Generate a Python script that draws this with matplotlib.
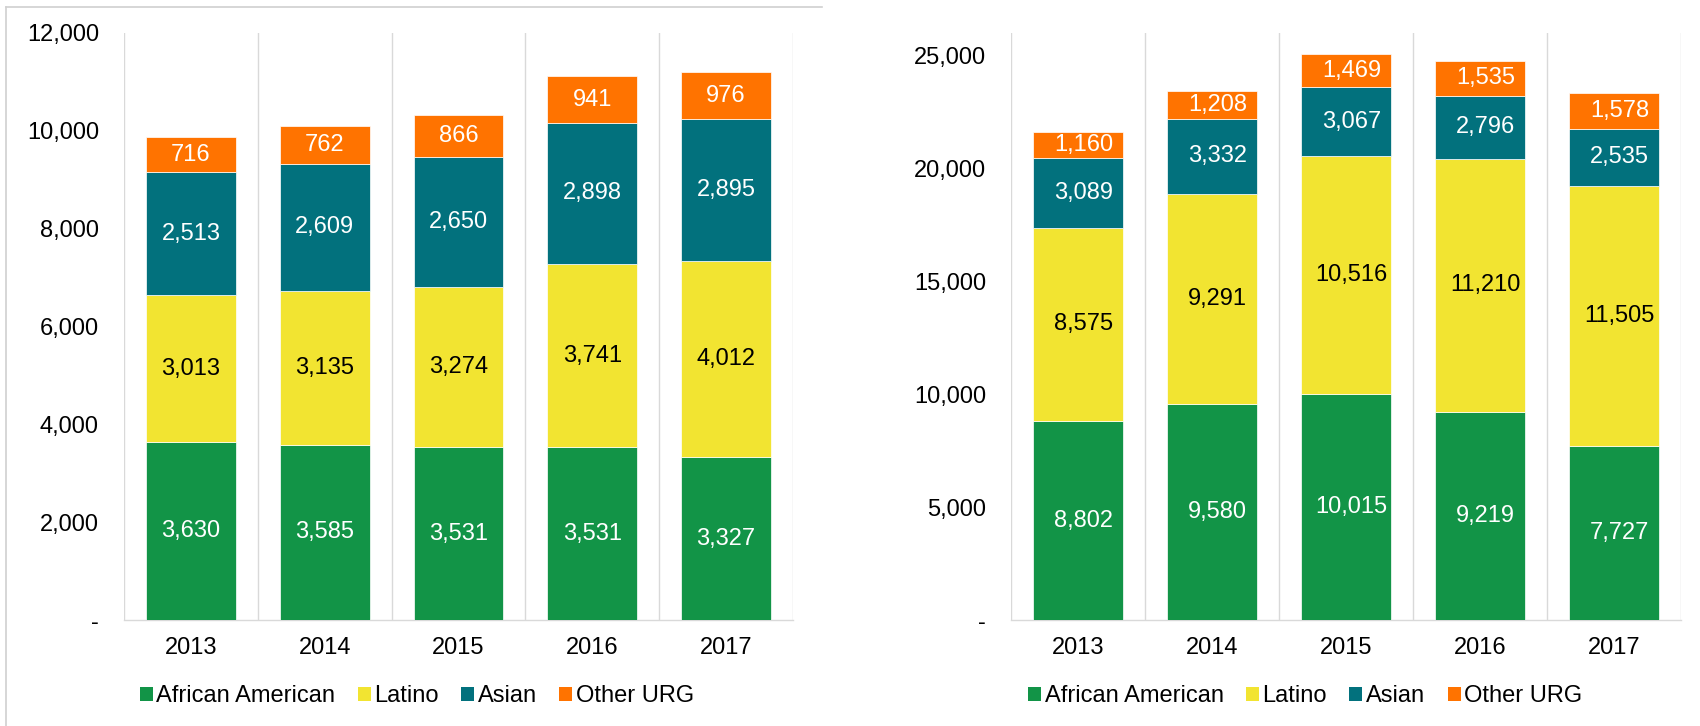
import numpy as np
import matplotlib as mpl
mpl.use('Agg')
from matplotlib import pyplot as plt
from matplotlib.lines import Line2D
from matplotlib.patches import Patch

years = ['2013', '2014', '2015', '2016', '2017']
groups = ['African American', 'Latino', 'Asian', 'Other URG']

# left chart
left_african_american = [3630, 3585, 3531, 3531, 3327]
left_latino = [3013, 3135, 3274, 3741, 4012]
left_asian = [2513, 2609, 2650, 2898, 2895]
left_other = [716, 762, 866, 941, 976]

# right chart
right_african_american = [8802, 9580, 10015, 9219, 7727]
right_latino = [8575, 9291, 10516, 11210, 11505]
right_asian = [3089, 3332, 3067, 2796, 2535]
right_other = [1160, 1208, 1469, 1535, 1578]

COLORS = ['#129447', '#F2E431', '#02717D', '#FF7300']
LABEL_COLORS = ['white', 'black', 'white', 'white']
GRID = '#d9d9d9'

W, H = 1700, 726
FS = 17
plt.rcParams['font.family'] = ['Liberation Sans', 'DejaVu Sans']
plt.rcParams['font.size'] = FS


def fmt(v):
    return '-' if v == 0 else '{:,}'.format(int(v))


def draw_panel(ax, series, ymax, yticks, legend_x, label_dx=0.0):
    ind = np.arange(len(years))
    bottom = np.zeros(len(years))
    for vals, color, lcolor in zip(series, COLORS, LABEL_COLORS):
        vals = np.array(vals)
        ax.bar(ind, vals, width=0.67, bottom=bottom, color=color,
               edgecolor='white', linewidth=0.5, zorder=3)
        for x, b, v in zip(ind, bottom, vals):
            ax.text(x + label_dx, b + v / 2, fmt(v), ha='center', va='center',
                    color=lcolor, fontsize=FS, zorder=4)
        bottom += vals

    # separators between the categories
    for i in range(len(years) + 1):
        ax.axvline(i - 0.5, color=GRID, lw=1, zorder=1)

    ax.set_xlim(-0.5, len(years) - 0.5)
    ax.set_ylim(0, ymax)
    ax.set_xticks(ind)
    ax.set_xticklabels(years)
    ax.set_yticks(yticks)
    ax.set_yticklabels([fmt(t) for t in yticks])
    ax.tick_params(axis='both', length=0, labelsize=FS)
    ax.tick_params(axis='y', pad=18)
    ax.tick_params(axis='x', pad=12)
    for side in ['top', 'right', 'left']:
        ax.spines[side].set_visible(False)
    ax.spines['bottom'].set_color(GRID)
    ax.spines['bottom'].set_linewidth(1)

    handles = [Patch(facecolor=c, edgecolor='none') for c in COLORS]
    ax.legend(handles, groups, loc='center', bbox_to_anchor=(legend_x, -0.13),
              ncol=4, frameon=False, fontsize=FS, handlelength=0.55,
              handleheight=0.55, handletextpad=0.15, columnspacing=0.95)


fig = plt.figure(figsize=(W / 100, H / 100), dpi=100, facecolor='w')

bottom_frac = (H - 620) / H
height_frac = (620 - 33) / H
ax1 = fig.add_axes([124 / W, bottom_frac, (793 - 124) / W, height_frac])
ax2 = fig.add_axes([1011 / W, bottom_frac, (1681 - 1011) / W, height_frac])

draw_panel(ax1, [left_african_american, left_latino, left_asian, left_other],
           12000, np.arange(0, 12001, 2000), 0.438)
draw_panel(ax2, [right_african_american, right_latino, right_asian, right_other],
           26000, np.arange(0, 25001, 5000), 0.439, label_dx=0.04)

# thin frame around the left chart (top and left edges only)
fig.add_artist(Line2D([6 / W, 822 / W], [1 - 7 / H, 1 - 7 / H],
                      transform=fig.transFigure, color='#d0d0d0', lw=1.2))
fig.add_artist(Line2D([6 / W, 6 / W], [1 - 7 / H, 0],
                      transform=fig.transFigure, color='#d0d0d0', lw=1.2))

fig.savefig('out.png', dpi=100)
